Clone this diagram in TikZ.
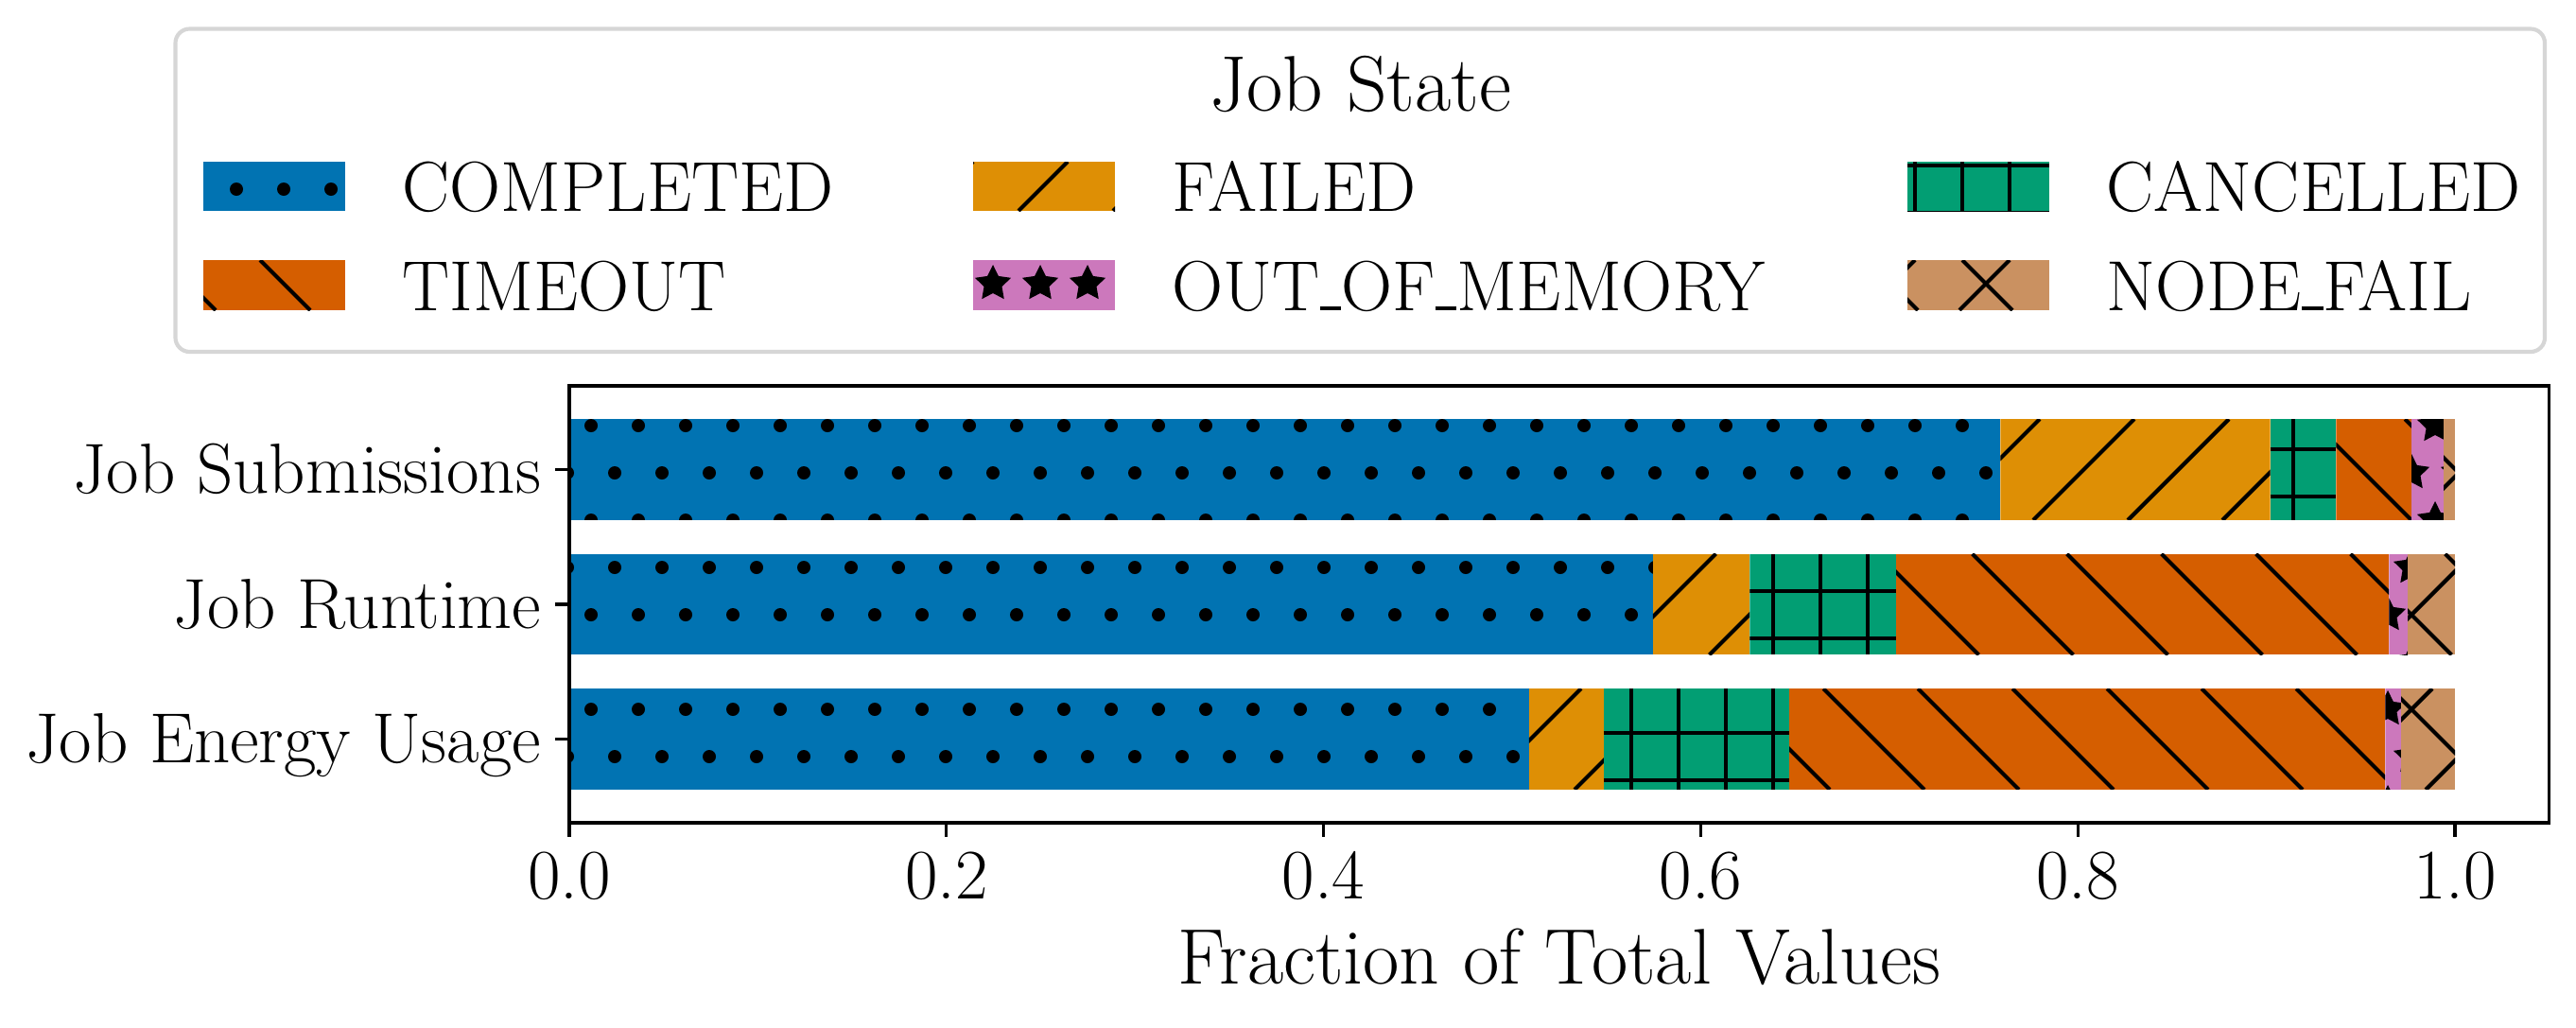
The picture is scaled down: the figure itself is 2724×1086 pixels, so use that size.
\documentclass[tikz,border=0pt]{standalone}
\usepackage{tikz}

\definecolor{cblue}{HTML}{0173B2}
\definecolor{corange}{HTML}{DE8F05}
\definecolor{cgreen}{HTML}{029E73}
\definecolor{cred}{HTML}{D55E00}
\definecolor{cpink}{HTML}{CC78BC}
\definecolor{ctan}{HTML}{CA9161}
\definecolor{legendgray}{HTML}{D6D6D6}

\tikzset{
  hatchline/.style={line width=1bp,black},
  spine/.style={line width=0.8bp,black},
  legframe/.style={line width=1bp,draw=legendgray,fill=white,rounded corners=3.6bp},
  ticklabel/.style={font=\fontsize{18.07}{21.7}\selectfont,inner sep=0pt},
  biglabel/.style={font=\fontsize{20.08}{24}\selectfont,inner sep=0pt},
}

% short underscore sitting on the baseline
\newcommand{\uscore}{\leavevmode\vbox{\hrule height 0.95pt width .3em}}

% hatches, all on one grid of the page (px units)
\newcommand{\hatchdots}[4]{%
  \pgfmathtruncatemacro\ja{floor(#3/50)}%
  \pgfmathtruncatemacro\jb{ceil(#4/50)}%
  \pgfmathtruncatemacro\ia{floor(#1/50)-1}%
  \pgfmathtruncatemacro\ib{ceil(#2/50)}%
  \foreach \j in {\ja,...,\jb}{%
    \pgfmathsetmacro\off{25*mod(\j,2)}%
    \foreach \i in {\ia,...,\ib}{\fill (50*\i+\off,50*\j) circle (7);}%
  }}
\newcommand{\hatchstars}[4]{%
  \pgfmathtruncatemacro\ja{floor(#3/50)}%
  \pgfmathtruncatemacro\jb{ceil(#4/50)}%
  \pgfmathtruncatemacro\ia{floor(#1/50)-1}%
  \pgfmathtruncatemacro\ib{ceil(#2/50)}%
  \foreach \j in {\ja,...,\jb}{%
    \pgfmathsetmacro\off{25*mod(\j,2)}%
    \foreach \i in {\ia,...,\ib}{%
      \fill (50*\i+\off,50*\j) +(-90:20) -- +(-54:10) -- +(-18:20) -- +(18:10)
        -- +(54:20) -- +(90:10) -- +(126:20) -- +(162:10) -- +(198:20) -- +(234:10) -- cycle;}%
  }}
\newcommand{\hatchfwd}[4]{%
  \pgfmathtruncatemacro\ka{floor((#1+#3)/100)}%
  \pgfmathtruncatemacro\kb{ceil((#2+#4)/100)}%
  \foreach \k in {\ka,...,\kb}{\draw[hatchline] (100*\k-#3,#3) -- (100*\k-#4,#4);}}
\newcommand{\hatchback}[4]{%
  \pgfmathtruncatemacro\ka{floor((#1-#4)/100)}%
  \pgfmathtruncatemacro\kb{ceil((#2-#3)/100)}%
  \foreach \k in {\ka,...,\kb}{\draw[hatchline] (100*\k+#3,#3) -- (100*\k+#4,#4);}}
\newcommand{\hatchcross}[4]{\hatchfwd{#1}{#2}{#3}{#4}\hatchback{#1}{#2}{#3}{#4}}
\newcommand{\hatchgrid}[4]{%
  \pgfmathtruncatemacro\ka{floor((#1-25)/50)}%
  \pgfmathtruncatemacro\kb{ceil((#2-25)/50)}%
  \foreach \k in {\ka,...,\kb}{\draw[hatchline] (50*\k+25,#3) -- (50*\k+25,#4);}%
  \pgfmathtruncatemacro\ka{floor((#3-25)/50)}%
  \pgfmathtruncatemacro\kb{ceil((#4-25)/50)}%
  \foreach \k in {\ka,...,\kb}{\draw[hatchline] (#1,50*\k+25) -- (#2,50*\k+25);}}

% one coloured, hatched piece: colour, hatch, x0, x1, y0, y1
\newcommand{\barseg}[6]{%
  \begin{scope}
    \clip (#3,#5) rectangle (#4,#6);
    \fill[fill=#1] (#3,#5) rectangle (#4,#6);
    \csname hatch#2\endcsname{#3}{#4}{#5}{#6}
  \end{scope}}

% one stacked bar: y0, y1, list of from/to/colour/hatch
\newcommand{\barrow}[3]{%
  \foreach \fa/\fb/\col/\hp in {#3}{%
    \pgfmathsetmacro\xa{602+1994*\fa}%
    \pgfmathsetmacro\xb{602+1994*\fb}%
    \barseg{\col}{\hp}{\xa}{\xb}{#1}{#2}%
  }}

\begin{document}
\begin{tikzpicture}[x=0.24bp,y=-0.24bp]
    \useasboundingbox (0,0) rectangle (2724,1086);

    % legend
    \draw[legframe] (185.5,30.5) rectangle (2691,372);
    \node[biglabel,anchor=base] (title) at (1438.5,117) {Job State};
    \barseg{cblue}{dots}{215}{365}{171}{223}
    \barseg{cred}{back}{215}{365}{275}{328}
    \barseg{corange}{fwd}{1029}{1179}{171}{223}
    \barseg{cpink}{stars}{1029}{1179}{275}{328}
    \barseg{cgreen}{grid}{2017}{2167}{171}{223}
    \barseg{ctan}{cross}{2017}{2167}{275}{328}
    \node[ticklabel,anchor=base west] (lcompleted) at (425,223) {COMPLETED};
    \node[ticklabel,anchor=base west] (ltimeout) at (425,328) {TIMEOUT};
    \node[ticklabel,anchor=base west] (lfailed) at (1239,223) {FAILED};
    \node[ticklabel,anchor=base west] (loom) at (1239,328) {OUT\uscore OF\uscore MEMORY};
    \node[ticklabel,anchor=base west] (lcancelled) at (2227,223) {CANCELLED};
    \node[ticklabel,anchor=base west] (lnodefail) at (2227,328) {NODE\uscore FAIL};

    % bars
    \barrow{443.1}{549.9}{0/0.759/cblue/dots, 0.759/0.902/corange/fwd, 0.902/0.937/cgreen/grid,
      0.937/0.977/cred/back, 0.977/0.994/cpink/stars, 0.994/1/ctan/cross}
    \barrow{585.6}{692.4}{0/0.5747/cblue/dots, 0.5747/0.626/corange/fwd, 0.626/0.7036/cgreen/grid,
      0.7036/0.965/cred/back, 0.965/0.975/cpink/stars, 0.975/1/ctan/cross}
    \barrow{728.1}{834.9}{0/0.509/cblue/dots, 0.509/0.5486/corange/fwd, 0.5486/0.647/cgreen/grid,
      0.647/0.963/cred/back, 0.963/0.9714/cpink/stars, 0.9714/1/ctan/cross}

    % axes
    \draw[spine] (602,408) rectangle (2695.7,870);
    \foreach \v/\lab [count=\n] in {0/0.0,0.2/0.2,0.4/0.4,0.6/0.6,0.8/0.8,1/1.0}{
        \draw[spine] (602+1994*\v,870) -- ++(0,14.6);
        \node[ticklabel,anchor=base] (xt\n) at (602+1994*\v,950) {\lab};
    }
    \foreach \yc/\lab [count=\n] in {496.5/Job Submissions,639/Job Runtime,781.5/Job Energy Usage}{
        \draw[spine] (602,\yc) -- ++(-14.6,0);
        \node[ticklabel,anchor=base east] (yt\n) at (573,\yc+25) {\lab};
    }
    \node[biglabel,anchor=base] (xlab) at (1648.8,1040) {Fraction of Total Values};
\end{tikzpicture}
\end{document}
